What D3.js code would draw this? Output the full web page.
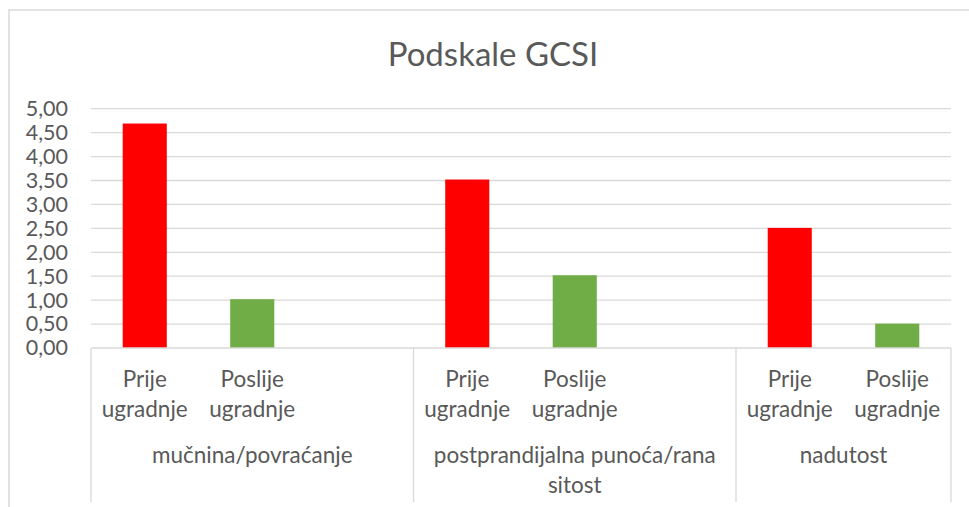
<!DOCTYPE html>
<html>
<head>
<meta charset="utf-8">
<script src="https://cdn.jsdelivr.net/npm/d3@7"></script>
<style>
  body { margin: 0; background: #fff; }
  svg text { font-family: Lato, "Open Sans", sans-serif; fill: #595959; }
</style>
</head>
<body>
<div id="chart"></div>
<script>
// Podskale GCSI — grouped columns with a two-level category axis
const width = 969;
const height = 507;

// data
const groups = ["mučnina/povraćanje", "postprandijalna punoća/rana sitost", "nadutost"];
const groupSlots = [3, 3, 2];   // Excel had a blank third category in the first two groups
const subLabels = ["Prije ugradnje", "Poslije ugradnje", "", "Prije ugradnje", "Poslije ugradnje", "", "Prije ugradnje", "Poslije ugradnje"];
const values = [4.69, 1.02, null, 3.52, 1.52, null, 2.51, 0.51];
const yTicks = [0, 0.5, 1, 1.5, 2, 2.5, 3, 3.5, 4, 4.5, 5];

const plot = { left: 91, right: 951, top: 108.7, bottom: 348 };
const labelSize = 22.5;

const svg = d3.select("#chart").append("svg")
    .attr("width", width)
    .attr("height", height);

// chart border (left/top visible in the crop)
svg.append("rect")
    .attr("x", 9).attr("y", 10)
    .attr("width", 1000).attr("height", 600)
    .attr("fill", "none")
    .attr("stroke", "#d9d9d9")
    .attr("stroke-width", 1.5);

svg.append("text")
    .attr("x", 493)
    .attr("y", 66)
    .attr("text-anchor", "middle")
    .style("font-size", "33px")
    .text("Podskale GCSI");

// scales
const x = d3.scaleBand()
    .domain(d3.range(subLabels.length))
    .range([plot.left, plot.right])
    .paddingInner(0.59)
    .paddingOuter(0.295);

const y = d3.scaleLinear()
    .domain([0, 5])
    .range([plot.bottom, plot.top]);

const comma = d3.formatLocale({ decimal: ",", thousands: ".", grouping: [3], currency: ["", ""] });

// gridlines
svg.append("g")
    .selectAll("line")
    .data(yTicks.filter(d => d > 0))
    .join("line")
    .attr("x1", plot.left).attr("x2", plot.right)
    .attr("y1", d => y(d)).attr("y2", d => y(d))
    .attr("stroke", "#d9d9d9")
    .attr("stroke-width", 1.3);

// y axis labels
const yAxis = svg.append("g")
    .attr("transform", `translate(${plot.left},0)`)
    .call(d3.axisLeft(y).tickValues(yTicks).tickSize(0).tickPadding(23).tickFormat(comma.format(".2f")));
yAxis.select(".domain").remove();
yAxis.selectAll("text").style("font-size", "21.5px").attr("fill", "#595959");

// bars
const barData = values.map((v, i) => ({ i, v, label: subLabels[i] })).filter(d => d.v != null);
svg.append("g")
    .selectAll("rect")
    .data(barData)
    .join("rect")
    .attr("x", d => x(d.i))
    .attr("width", x.bandwidth())
    .attr("y", d => y(d.v))
    .attr("height", d => y(0) - y(d.v))
    .attr("fill", d => d.label.startsWith("Prije") ? "#ff0000" : "#70ad47");

// category axis
const axisColor = "#d9d9d9";
const slotW = x.step();
svg.append("line")
    .attr("x1", plot.left).attr("x2", plot.right)
    .attr("y1", plot.bottom).attr("y2", plot.bottom)
    .attr("stroke", axisColor).attr("stroke-width", 1.3);

const bounds = [0];
groupSlots.forEach(n => bounds.push(bounds[bounds.length - 1] + n));
svg.append("g")
    .selectAll("line")
    .data(bounds)
    .join("line")
    .attr("x1", d => plot.left + d * slotW).attr("x2", d => plot.left + d * slotW)
    .attr("y1", plot.bottom).attr("y2", 502)
    .attr("stroke", axisColor).attr("stroke-width", 1.3);

function wrapLines(text, maxW, size) {
    const probe = svg.append("text").style("font-size", size + "px");
    const words = text.split(" ");
    const lines = [];
    let cur = "";
    words.forEach(w => {
        const t = cur ? cur + " " + w : w;
        probe.text(t);
        if (cur && probe.node().getComputedTextLength() > maxW) {
            lines.push(cur);
            cur = w;
        } else {
            cur = t;
        }
    });
    if (cur) lines.push(cur);
    probe.remove();
    return lines;
}

function drawLabel(text, cx, y0, maxW) {
    const lines = wrapLines(text, maxW, labelSize);
    const t = svg.append("text")
        .attr("text-anchor", "middle")
        .style("font-size", labelSize + "px");
    lines.forEach((l, k) => {
        t.append("tspan").attr("x", cx).attr("y", y0 + k * 30).text(l);
    });
}

subLabels.forEach((s, i) => {
    if (s) drawLabel(s, x(i) + x.bandwidth() / 2, 387, slotW - 8);
});

groups.forEach((g, k) => {
    const cx = plot.left + (bounds[k] + groupSlots[k] / 2) * slotW;
    drawLabel(g, cx, 463, groupSlots[k] * slotW - 12);
});
</script>
</body>
</html>
